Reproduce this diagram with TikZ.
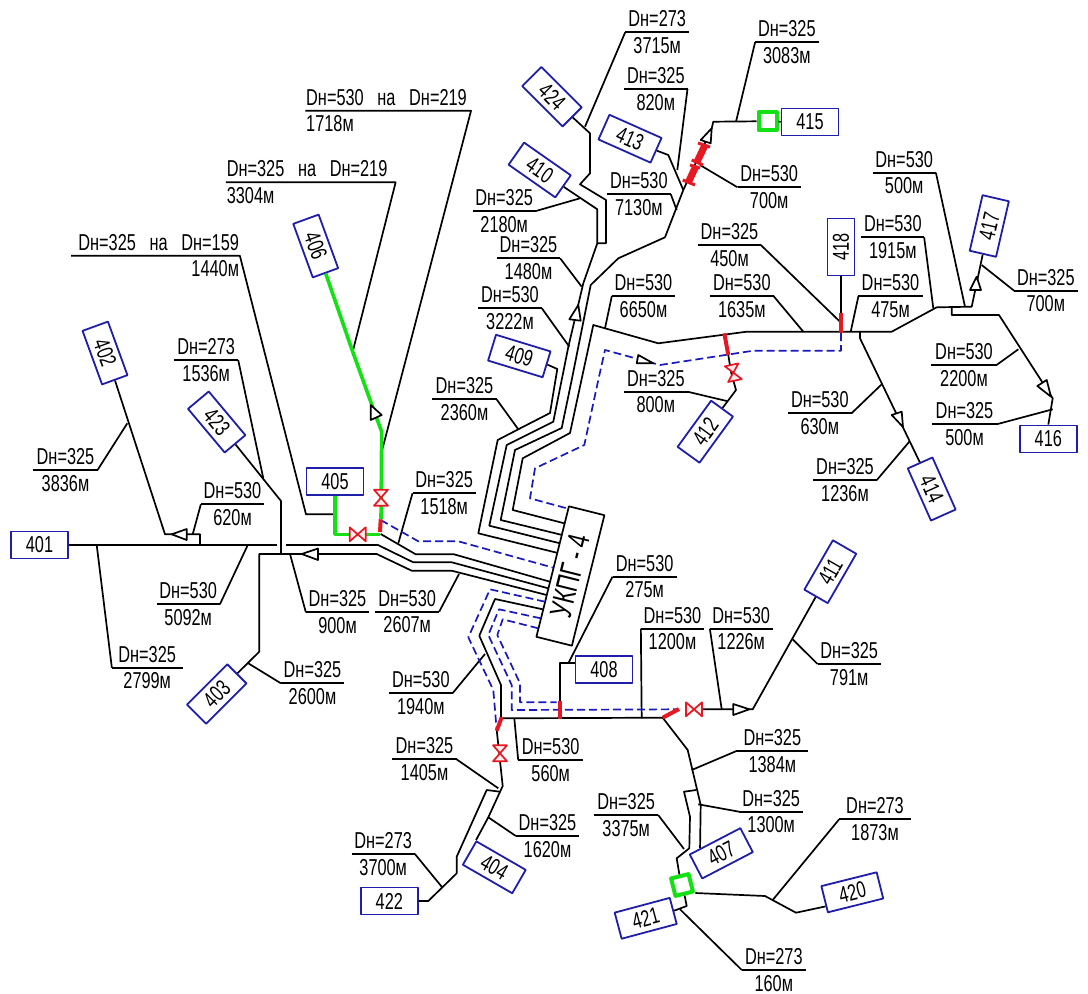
\documentclass[tikz,border=0pt]{standalone}
\usepackage{fontspec}
\setmainfont[FakeStretch=0.71]{Liberation Sans}
\usepackage{xcolor}
\usetikzlibrary{calc}
\definecolor{boxblue}{RGB}{30,30,170}
\definecolor{dashblue}{RGB}{25,25,190}
\definecolor{pipegreen}{RGB}{20,225,20}
\definecolor{valvered}{RGB}{230,25,35}
\newcommand{\pipefont}{\fontsize{23}{26.5}\selectfont}
\newcommand{\na}{\hspace{6pt} на \hspace{6pt}}
\tikzset{
  well/.style={draw=boxblue, line width=1.8pt, align=center, font=\pipefont, minimum width=57, minimum height=27, inner sep=0},
  lab/.style={align=center, font=\pipefont, inner sep=0},
  pad/.style={draw=pipegreen, line width=4pt, minimum size=18, inner sep=0},
  gas/.style={draw=pipegreen, line width=3.6pt},
  gasdash/.style={draw=dashblue, dash pattern=on 8pt off 4pt},
  tri/.style={fill=white},
  bar/.style={draw=valvered, line width=4pt},
  valve/.style={draw=valvered, fill=valvered!8},
}
\begin{document}
\begin{tikzpicture}[x=1pt, y=-1pt, line width=1.7pt, line join=round]
  \useasboundingbox (0,0) rectangle (1088,994);
  % wells
  \foreach \n/\x/\y/\r in {401/39.5/545/0, 402/105/353/-70, 403/216.7/694/45, 404/494.3/867.3/-30,
    405/335/481.5/0, 406/315.7/246/-70, 407/721.3/853.3/27.5, 408/604/669.5/0, 409/519.3/356/-17,
    410/539.7/170/-35, 411/830.3/571.7/60, 412/705.3/431.7/54, 413/630/138.7/-24, 414/931.7/489/-66,
    415/810/122/0, 416/1048.3/439/0, 417/989.3/226/77, 418/841/247/90, 420/852.3/892.3/14,
    421/645.7/918.3/15, 422/389.3/901/0, 423/216.7/422/-50, 424/552/96.7/-45}
    \node[well, rotate=\r] (b\n) at (\x,\y) {\n};
  \node[draw, rotate=76, minimum width=134.5, minimum height=36.6, inner sep=0, font=\fontsize{31}{31}\selectfont] (ukpg) at (570.4,576) {УКПГ\,-\,4};
  \node[pad] (s415) at (767.5,121.3) {};
  \node[pad, rotate=14] (s421) at (682,885) {};
  % pipe labels: name, centre, rule width, side of the leader, end of the leader
  \foreach \tp/\bt/\x/\y/\w/\sd/\tx/\ty in {
    325/3836/65.5/470/62.4/east/127.3/423.3, 530/620/232.5/504.3/61.6/west/192.7/534.3,
    273/1536/206.2/360/62.3/east/263.3/478.3, 530/5092/188.2/604.3/61.7/east/247.3/546,
    325/2799/147.2/667.7/69/west/96.7/545, 325/900/337.5/612.3/61.6/west/290/554,
    530/2607/407.2/611.7/62.3/east/459/574, 325/2600/312.5/683.3/61.6/west/248.3/663.3,
    325/1518/444.2/493.3/61.7/west/398.3/543.3, 325/2360/464.5/399.3/62.4/east/518.3/429.3,
    325/2180/504.2/211/61.7/east/580/198.3, 325/1480/528.5/258.3/61.6/east/581.7/286.7,
    530/3222/510/308.3/62/east/569.3/346.7, 273/3715/657.2/32.3/62.3/west/585/126.7,
    325/820/655.8/89/61.7/east/677.3/170, 530/7130/638.8/194.3/62.3/east/676.7/210,
    325/3083/786.8/42.3/61.7/west/736/121.7, 530/700/769.2/187.3/61.7/west/700/165,
    325/450/729.5/245/61/east/840/321.7, 530/1635/741.8/296/61.7/east/803.3/331.7,
    530/6650/643.5/296/61.6/west/605/328.3, 325/800/655.8/391.7/61.7/east/726.7/401,
    530/500/904.2/172.7/61.7/east/965/306.7, 530/1915/892.8/237.3/61/east/933.3/308.3,
    530/475/890.5/296/62.4/west/850.7/331.7, 325/700/1045.8/290.7/61.7/west/981.7/265,
    530/2200/964/365/63.4/east/1018.3/349.3, 325/500/964.5/424.3/62.4/east/1052.7/409.3,
    530/630/819.8/413.3/61.7/east/881.7/384.3, 325/1236/845/480/62/east/909.3/441.7,
    530/275/644.7/576.7/62.7/west/568.3/663.3, 530/1200/672.5/628.7/61.6/west/641.7/718.3,
    530/1226/741.2/628.7/61/west/721.7/709.3, 325/791/849.2/664/61.7/west/792.7/639.3,
    530/1940/420.8/693.3/61.7/east/485/654, 530/560/550.7/760/63.3/west/514.3/718.3,
    325/1405/424.5/759.3/62.4/east/498.3/788.3, 325/1620/547.5/836/61.6/west/488.3/817.3,
    273/3700/383.2/854/61.7/east/441.7/886.7, 325/1384/772.3/751/70/west/691.7/770,
    325/1300/771.2/811.7/62.3/west/698.3/804.3, 325/3375/626.2/815/62.3/east/684/849,
    273/1873/875/819.3/70/west/772.7/900, 273/160/773.8/970/62.3/west/680/909.3}{
    \node[lab, minimum width=\w] (l\tp\bt) at (\x,\y) {Dн=\tp\\\bt м};
    \coordinate (t\tp\bt) at (\tx,\ty);
    \draw (l\tp\bt.west) -- (l\tp\bt.east);
    \draw (l\tp\bt.\sd) -- (t\tp\bt);
  }
  \node[lab, text width=167, align=right] (l159) at (155.5,255.7) {Dн=325\na Dн=159\\1440м};
  \node[lab, text width=168, align=left] (l3304) at (310.8,182.3) {Dн=325\na Dн=219\\3304м};
  \node[lab, text width=164, align=left] (l1718) at (388.2,110.7) {Dн=530\na Dн=219\\1718м};
  \coordinate (j405) at (334.3,514.3);
  \coordinate (j406) at (352.7,351.7);
  \coordinate (j1718) at (381.7,451.7);
  \draw (l159.west) -- (l159.east) -- (306,514.3) -- (j405);
  \draw (l3304.west) -- (l3304.east) -- (j406);
  \draw (l1718.west) -- (l1718.east) -- (j1718);
  % pipes from the left
  \draw (b401.east) -- (277,545);
  \draw (286,545) -- (378,545) -- (413.3,562.3) -- (451.7,562.3) -- (548.3,588.3);
  \draw (b403.east) -- (259.3,651.7) -- (259.3,554) -- (376.7,554) -- (411.7,570.7) -- (451.7,570.7) -- (546.7,595);
  \draw (b423.east) -- (281,501) -- (281,554);
  \draw (b402.east) -- (165,534.3) -- (200,534.3) -- (200,545);
  \draw (380.7,534) -- (415.7,554.3) -- (454,554.3) -- (550,581.7);
  \draw[gas] (b405.south) -- (335,534.3) -- (380,534.3);
  \draw[gas] (b406.east) -- (j406) -- (376.7,418.3) -- (381.7,431.7) -- (381,519);
  % pipes to the north
  \draw (b424.east) -- (590,133.3) -- (590,173.3) -- (580,184.3) -- (606,200) -- (606,243.3) -- (597.3,243.3);
  \draw (b410.east) -- (597.3,209.3) -- (597.3,243.3) -- (583.3,283.3) -- (568.3,347) -- (553.3,421.7) -- (506.7,445) -- (489.3,525.7) -- (560,543.3);
  \draw (b409.east) -- (557.3,369) -- (550,413) -- (518.3,429.3) -- (497.7,440) -- (478.3,533.3) -- (556.7,552.7);
  \draw (b413.east) -- (668.3,155) -- (683.3,190);
  \draw (s415.west) -- (713.3,121.7) -- (711.7,128.3) -- (683.3,190) -- (665,237.3) -- (618.3,258.3) -- (590.7,285) -- (571.7,380) -- (561.7,428) -- (515,450) -- (500.7,520) -- (562.3,535);
  \draw (s415.east) -- (b415.west);
  \draw (564.3,523.3) -- (512.7,510) -- (522.7,458.3) -- (570,433) -- (593.3,325) -- (658.3,343.3) -- (746.7,331.7) -- (891.7,331.7) -- (936.7,307.3) -- (971.7,306.7) -- (b417.west);
  \draw (951.7,307.3) -- (951.7,315) -- (999,315) -- (1052.7,398.3) -- (b416.north);
  \draw (b418.west) -- (841,314);
  \draw (860,332) -- (860,338.3) -- (b414.west);
  \draw (728.3,355) -- (731,372) -- (736,390) -- (b412.east);
  % pipes to the south
  \draw (542.7,609.3) -- (495,599) -- (479.3,635.7) -- (501,685) -- (501,718.3) -- (662.7,717.7) -- (687.7,750) -- (700.7,805) -- ($(b407.north west)!0.22!(b407.north east)$);
  \draw (b408.west |- 0,663.3) -- (560,663.3) -- (560,701);
  \draw (b411.west) -- (752.7,709.3) -- (702,709.3);
  \draw (496.7,730) -- (502.7,786) -- (488.3,817.3) -- (b404.north west);
  \draw (500,791.7) -- (486.7,790) -- (456.7,856.7) -- (456.7,873.3) -- (428.3,901) -- (b422.east);
  \draw (696,790) -- (684,791.7) -- (690,816.7) -- (689.3,848.3) -- (676.7,858.3) -- (s421.north);
  \draw (s421.south) -- (686.7,906) -- (b421.east);
  \draw (s421.south east) -- (765,896) -- (796,912.7) -- ($(b420.west)!0.5!(b420.south west)$);
  % dashed lines
  \draw[gasdash] (380.7,520) -- (418.3,541.3) -- (458.3,541.3) -- (553.3,567.7);
  \draw[gasdash] (841,333) -- (841,350.7) -- (753.3,350.7) -- (660,365) -- (605,350) -- (598.3,380) -- (584.3,445) -- (535,468.3) -- (530,498.3) -- (566.7,508.3);
  \draw[gasdash] (545,601.7) -- (490,589.3) -- (468.3,637.3) -- (493.3,690) -- (496.7,730);
  \draw[gasdash] (540.7,618.3) -- (499,609.3) -- (488.3,635) -- (511.7,685) -- (511.7,710) -- (676.7,709.3);
  \draw[gasdash] (538.3,628.3) -- (502.7,619.3) -- (497.3,635) -- (520,683.3) -- (520,702.3) -- (556.7,702.3);
  % red bars
  \foreach \xa/\ya/\xb/\yb in {380.7/519.3/380/532, 560/700.7/560/719.3, 501.7/717.3/496.7/730.7,
    662.7/717.7/679/709, 724.3/333.3/728.3/355, 841/313.3/841/332.7}
    \draw[bar] (\xa,\ya) -- (\xb,\yb);
  \draw[bar, line width=7pt] (705,145) -- (697,162);
  \draw[bar, line width=7pt] (695.5,167) -- (688.5,182);
  \foreach \xa/\ya/\xb/\yb in {698/143/710/147, 691.7/160/703/165, 690/165/700/168, 682.7/180/695/185}
    \draw[bar, line width=3pt] (\xa,\ya) -- (\xb,\yb);
  % valves
  \foreach \x/\y/\r in {381/497.7/0, 357.7/534.3/90, 500/753.3/0, 694/709.3/90, 733.3/372.7/12}
    \draw[valve, shift={(\x,\y)}, rotate=\r] (-7,-8) -- (7,8) -- (-7,8) -- (7,-8) -- cycle;
  % direction triangles
  \draw[tri] (171.7,534.3) -- (186.7,529) -- (186.7,540) -- cycle;
  \draw[tri] (301.7,554) -- (318,548.5) -- (318,560) -- cycle;
  \draw[tri] (370.7,405) -- (370.7,420) -- (381.7,415) -- cycle;
  \draw[tri] (578.3,305) -- (569.3,319.3) -- (580.7,320.7) -- cycle;
  \draw[tri] (711.7,128.3) -- (700.7,140) -- (710.7,143.3) -- cycle;
  \draw[tri] (653.3,363.3) -- (638.3,355) -- (636.7,363.3) -- cycle;
  \draw[tri] (976.7,276.7) -- (970,290) -- (981,290) -- cycle;
  \draw[tri] (1051,396.7) -- (1046.7,380) -- (1037.3,386) -- cycle;
  \draw[tri] (903,427) -- (891.7,415) -- (901.7,411.7) -- cycle;
  \draw[tri] (749.3,709.3) -- (733.3,704) -- (733.3,715) -- cycle;
\end{tikzpicture}
\end{document}
